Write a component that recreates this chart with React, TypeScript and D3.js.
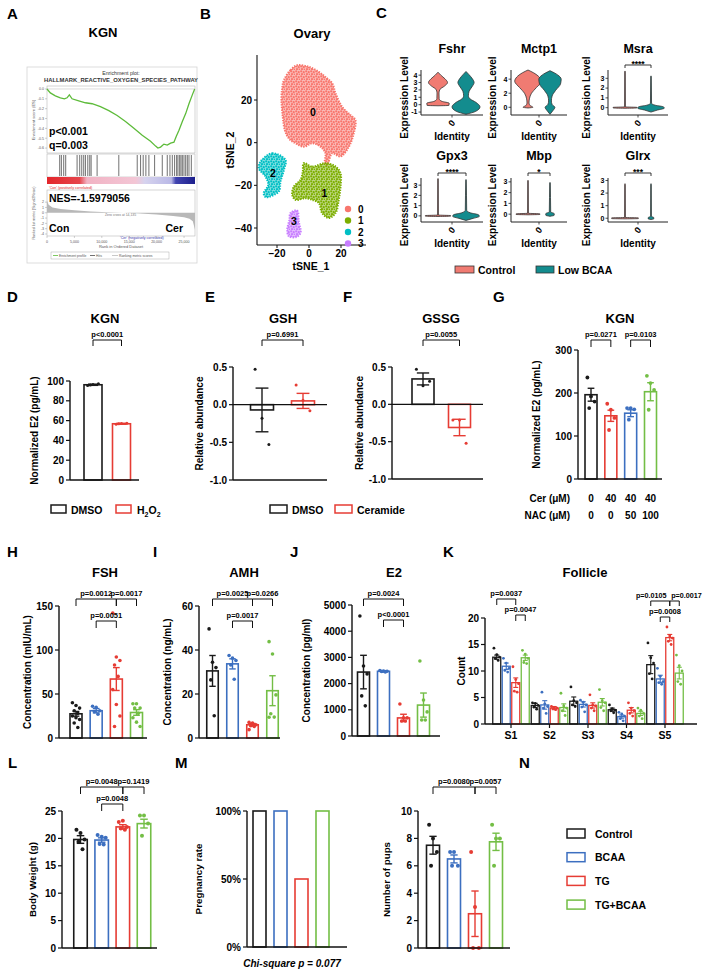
import React from "react";
import * as d3 from "d3";

const FONT = "'Liberation Sans', Arial, Helvetica, sans-serif";

// ================= DATA =================
// Panel A – GSEA
const gseaRank = [0, 610, 1520, 2440, 3170, 3660, 4080, 4570, 5790, 7010, 8230, 9750, 11280, 12800, 14320, 15850, 17370, 18890, 19810, 20230, 20720, 21330, 21940, 22550, 23160, 23590, 24080, 24690, 25300, 25900, 26510, 26940];
const gseaES = [0, -0.04, -0.07, -0.09, -0.1, -0.09, -0.06, -0.1, -0.12, -0.14, -0.15, -0.18, -0.22, -0.27, -0.33, -0.4, -0.47, -0.53, -0.58, -0.6, -0.59, -0.56, -0.57, -0.55, -0.54, -0.48, -0.42, -0.33, -0.25, -0.15, -0.06, 0];
const gseaHits = [2320, 2620, 3050, 3410, 5490, 5970, 6340, 6700, 7010, 7440, 7800, 8050, 9140, 13100, 16460, 17070, 17550, 18040, 18590, 19630, 21030, 21940, 22430, 22860, 23280, 23650, 23890, 24200, 24440, 24690, 24990, 25300, 25600, 25900, 26330];
const gseaMetricRank = [0, 300, 1000, 2500, 5000, 8000, 11000, 14000, 17000, 20000, 23000, 25000, 26000, 26600, 27000];
const gseaMetricValue = [2.3, 1.5, 1.0, 0.7, 0.45, 0.25, 0.1, 0, -0.15, -0.35, -0.6, -0.85, -1.15, -1.6, -3.2];
const gseaRankTicks = [0, 5000, 10000, 15000, 20000, 25000];
const gseaESTicks = [0, -0.1, -0.2, -0.3, -0.4, -0.5, -0.6];
const gseaMetricTicks = [2, 1, 0, -1, -2, -3, -4];

// Panel B – tSNE clusters (outlines in tSNE units)
const clusterIds = ["0", "1", "2", "3"];
const clusterColors = ["#F8766D", "#7CAE00", "#00BFC4", "#C77CFF"];
const cluster0Outline = [[-15.7, 29.3], [-11.6, 34], [-7.4, 36.3], [0, 35.5], [6.1, 33.2], [10.3, 30.8], [14.5, 27.8], [16.6, 23.1], [20.7, 16.8], [26, 12.9], [29, 10.6], [28, 4.4], [24.9, -1.9], [19.7, -6.5], [14.5, -5], [11.4, -10.4], [9.9, -9.6], [10.3, -5], [7.2, -1.9], [2, -0.3], [-3.3, -1.9], [-8.4, -0.3], [-12.6, 2], [-15.1, 5.9], [-16.4, 12.1], [-17.2, 20], [-16.8, 25.4]];
const cluster1Outline = [[-3.3, -9.6], [2, -11.2], [10.3, -9.6], [16.6, -11.2], [19.7, -14.3], [19.7, -20.6], [18.6, -26.8], [16.6, -33], [12.4, -35.3], [8.2, -33], [6.1, -28.3], [2, -26.8], [-2.2, -26], [-8.4, -26.8], [-10.5, -24.4], [-9.5, -20.6], [-5.3, -17.4], [-3.9, -13.6]];
const cluster2Outline = [[-30.3, -8.9], [-23, -5], [-14.7, -8.1], [-15.7, -12.8], [-17.8, -18.2], [-18.9, -22.9], [-27.2, -25.5], [-28.3, -23.6], [-25.5, -19.8], [-27.2, -15.9], [-31.4, -12]];
const cluster3Outline = [[-11.6, -33], [-7.4, -31.8], [-6.4, -36.9], [-5.3, -42.3], [-8, -44.2], [-12.6, -43.9], [-13.6, -40.8], [-12.2, -36.1]];
const clusterCentroids = [[2.4, 14.5], [9.7, -23.4], [-22.6, -14], [-9.5, -36.9]];
const tsneXTicks = [-20, 0, 20];
const tsneYTicks = [20, 0, -20, -40];

// Panel C – violins
const vGenes = ["Fshr", "Mctp1", "Msra", "Gpx3", "Mbp", "Glrx"];
const vSig = ["", "", "****", "****", "*", "***"];
const vTicks = [[-1, 0, 1, 2, 3, 4], [0, 2, 4], [0, 1, 2, 3], [0, 1, 2, 3], [0, 1, 2, 3], [0, 1, 2, 3]];
const vDomain = [[-1.4, 4.7], [-1.1, 5.3], [-0.75, 3.85], [-0.6, 3.7], [-0.73, 3.36], [-0.3, 3.2]];
const vGroups = ["Control", "Low BCAA"];
const vColors = ["#F07B72", "#138C8E"];
// [expression, relative density]
const vControl = [
  [[-0.15, 0], [-0.1, 0.78], [0.2, 0.8], [0.45, 0.28], [0.8, 0.08], [1.6, 0.07], [2.1, 0.15], [2.5, 0.45], [3.0, 0.68], [3.5, 0.5], [4.0, 0.2], [4.4, 0]],
  [[-0.1, 0], [0, 0.35], [0.25, 0.15], [0.6, 0.07], [1.2, 0.1], [2, 0.25], [2.8, 0.6], [3.7, 0.95], [4.3, 0.8], [4.9, 0.4], [5.3, 0]],
  [[-0.06, 0], [-0.03, 0.85], [0.03, 0.85], [0.08, 0.03], [3.7, 0.02], [3.75, 0]],
  [[-0.06, 0], [-0.03, 0.9], [0.03, 0.9], [0.08, 0.03], [3.6, 0.02], [3.65, 0]],
  [[-0.06, 0], [-0.03, 0.85], [0.03, 0.85], [0.08, 0.03], [3.1, 0.02], [3.15, 0]],
  [[-0.05, 0], [-0.03, 0.95], [0.03, 0.95], [0.06, 0.03], [2.7, 0.02], [2.75, 0]],
];
const vLow = [
  [[-1.3, 0], [-0.9, 0.7], [-0.3, 1.0], [0.3, 0.72], [0.8, 0.28], [1.2, 0.17], [1.8, 0.22], [2.4, 0.42], [3.0, 0.58], [3.6, 0.42], [4.1, 0.2], [4.5, 0]],
  [[-1.0, 0], [-0.5, 0.2], [0, 0.35], [0.4, 0.15], [0.9, 0.1], [1.6, 0.15], [2.4, 0.4], [3.3, 0.75], [4.0, 0.8], [4.6, 0.55], [5.2, 0]],
  [[-0.45, 0], [-0.25, 0.45], [-0.05, 0.95], [0.08, 0.9], [0.25, 0.3], [0.45, 0.04], [3.2, 0.02], [3.25, 0]],
  [[-0.45, 0], [-0.25, 0.5], [-0.05, 0.95], [0.1, 0.9], [0.3, 0.3], [0.55, 0.05], [3.5, 0.02], [3.55, 0]],
  [[-0.2, 0], [-0.1, 0.3], [0.05, 0.3], [0.2, 0.05], [2.9, 0.02], [2.95, 0]],
  [[-0.1, 0], [-0.05, 0.2], [0.05, 0.2], [0.15, 0.03], [2.7, 0.02], [2.75, 0]],
];

// Group colours
const twoColors = ["#1a1a1a", "#E63C34"];
const fourColors = ["#1a1a1a", "#3C6FC0", "#E63C34", "#73BE45"];
const gColors = ["#1a1a1a", "#E63C34", "#3C6FC0", "#73BE45"];
const groupNames = ["Control", "BCAA", "TG", "TG+BCAA"];

// Panel D
const dMeans = [96.2, 56.8];
const dSems = [0.6, 0.5];
const dPoints = [[95.5, 96.5, 97.2, 96], [56.2, 57, 57.4, 56.8]];
const dTicks = [0, 20, 40, 60, 80, 100];
// Panel E
const eMeans = [-0.07, 0.05];
const eSems = [0.29, 0.1];
const ePoints = [[0.47, -0.18, -0.53], [0.26, 0.06, -0.08]];
// Panel F
const fMeans = [0.34, -0.31];
const fSems = [0.08, 0.11];
const fPoints = [[0.47, 0.25, 0.31], [-0.21, -0.21, -0.52]];
const efTicks = [0.5, 0, -0.5, -1];
// Panel G
const gMeans = [196, 147, 153, 203];
const gSems = [15, 13, 8, 21];
const gPoints = [[236, 192, 180, 165], [175, 161, 142, 114], [165, 165, 162, 138], [240, 223, 207, 161]];
const gTicks = [0, 100, 200, 300];
const gCer = ["0", "40", "40", "40"];
const gNac = ["0", "0", "50", "100"];
// Panel H
const hMeans = [27.5, 31, 67, 29];
const hSems = [2.7, 2.5, 13, 3.2];
const hPoints = [[40, 37, 34, 31, 28, 25, 23, 21, 17, 12], [36, 35, 31, 30, 27], [142, 92, 88, 83, 70, 55, 38, 25, 13], [39, 39, 34, 34, 28, 23, 18, 13]];
const hTicks = [0, 50, 100, 150];
// Panel I
const iMeans = [30.5, 33.7, 6, 21.5];
const iSems = [7, 2.3, 0.6, 6.8];
const iPoints = [[49.6, 34.4, 32, 26.4, 10.1], [37.5, 36.3, 35.2, 33.2, 26.7], [7.1, 6.8, 6, 5.6, 5.2, 3.8], [43.8, 38.2, 19.6, 11, 9.5, 9.4]];
const iTicks = [0, 20, 40, 60];
// Panel J
const jMeans = [2440, 2470, 690, 1180];
const jSems = [640, 25, 140, 460];
const jPoints = [[4580, 2670, 2370, 1530, 1150], [2500, 2480, 2470, 2460, 2440], [1220, 690, 690, 570, 570], [2860, 1370, 920, 610, 610]];
const jTicks = [0, 1000, 2000, 3000, 4000, 5000];
// Panel K
const kStages = ["S1", "S2", "S3", "S4", "S5"];
const kMeans = [[12.6, 10.9, 7.8, 12.5], [3.5, 3.6, 3.0, 3.1], [4.3, 3.7, 3.5, 4.1], [2.7, 1.4, 2.6, 2.0], [11.2, 8.5, 16.3, 9.6]];
const kSems = [[0.4, 0.6, 0.9, 0.5], [0.4, 0.8, 0.3, 0.7], [0.8, 0.5, 0.5, 0.7], [0.3, 0.3, 0.5, 0.4], [1.7, 0.7, 0.6, 1.1]];
const kPoints = [
  [[14.3, 13.1, 12.6, 12.4, 12.0], [12.4, 11.5, 10.5, 10.1, 9.8], [10.8, 8.4, 7.6, 6.2, 6.0], [13.9, 13.2, 12.4, 11.6, 11.4]],
  [[4.0, 3.9, 3.5, 3.2, 2.8], [6.0, 3.8, 3.3, 3.0, 2.0], [3.3, 3.1, 3.0, 2.9, 2.7], [5.8, 3.4, 3.0, 2.5, 1.6]],
  [[7.0, 4.4, 4.0, 3.6, 3.3], [4.5, 4.1, 3.6, 3.2, 2.3], [5.5, 3.6, 3.4, 3.0, 2.5], [6.5, 4.4, 4.0, 3.1, 2.5]],
  [[3.6, 2.9, 2.6, 2.5, 2.1], [2.2, 1.9, 1.5, 1.0, 0.6], [4.0, 3.0, 2.5, 2.0, 1.5], [3.0, 2.6, 2.0, 1.5, 1.0]],
  [[15.3, 12.5, 11.5, 9.5, 8.5], [10.5, 9.0, 8.0, 7.8, 7.5], [18.3, 16.6, 16.2, 15.6, 15.0], [13.0, 11.0, 10.0, 8.0, 7.5]],
];
const kTicks = [0, 5, 10, 15, 20];
// Panel L
const lMeans = [19.8, 19.7, 22.1, 22.7];
const lSems = [0.7, 0.4, 0.4, 0.8];
const lPoints = [[21.6, 21, 19.8, 19.4, 18], [20.6, 20.3, 20.1, 19, 18.9], [23, 23.2, 22.1, 21.8, 21.6], [24.2, 24.2, 22.7, 20.5]];
const lTicks = [0, 5, 10, 15, 20, 25];
// Panel M
const mRates = [100, 100, 50, 100];
const mTicks = [0, 50, 100];
// Panel N
const nMeans = [7.5, 6.5, 2.5, 7.75];
const nSems = [0.65, 0.29, 1.66, 0.63];
const nPoints = [[9, 8, 7, 6], [7, 7, 6, 6], [7, 3, 0, 0], [9, 8, 8, 6]];
const nTicks = [0, 2, 4, 6, 8, 10];

// ================= HELPERS =================
function Lbl({ x, y, children }: any) {
  return <text x={x} y={y} fontSize={15} fontWeight="bold" fontFamily={FONT}>{children}</text>;
}
function Title({ x, y, children, size = 13 }: any) {
  return <text x={x} y={y} fontSize={size} fontWeight="bold" textAnchor="middle" fontFamily={FONT}>{children}</text>;
}
function Bracket({ x1, x2, y, drop = 6, label, fs = 7.5, dx = 0 }: any) {
  return (
    <g>
      <path d={`M${x1},${y + drop}V${y}H${x2}V${y + drop}`} fill="none" stroke="#111" strokeWidth={1} />
      <text x={(x1 + x2) / 2 + dx} y={y - 3} textAnchor="middle" fontSize={fs} fontWeight="bold" fontFamily={FONT}>{label}</text>
    </g>
  );
}
const jit = (i: number) => (((i * 7) % 5) - 2);

function BarPanel(p: any) {
  const y = d3.scaleLinear().domain(p.domain).range(p.range);
  const n = p.means.length;
  const x = d3.scalePoint<number>().domain(d3.range(n)).range([p.c0, p.c1]);
  const base = y(Math.max(p.domain[0], 0));
  const bw = p.barW;
  const pr = p.pr ?? 1.9;
  const fs = p.fs ?? 10;
  const midY = (p.range[0] + p.range[1]) / 2;
  return (
    <g fontFamily={FONT}>
      {p.means.map((m: number, i: number) => {
        const cx = x(i)!;
        const yt = Math.min(y(m), base), yb = Math.max(y(m), base);
        return (
          <g key={i}>
            <rect x={cx - bw / 2} y={yt} width={bw} height={Math.max(yb - yt, 0.5)} fill="none" stroke={p.colors[i]} strokeWidth={1.6} />
            {p.sems && (
              <g stroke={p.colors[i]} strokeWidth={1.4}>
                <line x1={cx} x2={cx} y1={y(m - p.sems[i])} y2={y(m + p.sems[i])} />
                <line x1={cx - bw * 0.28} x2={cx + bw * 0.28} y1={y(m + p.sems[i])} y2={y(m + p.sems[i])} />
                <line x1={cx - bw * 0.28} x2={cx + bw * 0.28} y1={y(m - p.sems[i])} y2={y(m - p.sems[i])} />
              </g>
            )}
            {p.points && p.points[i].map((v: number, j: number) => (
              <circle key={j} cx={cx + jit(j) * bw * 0.15} cy={y(v)} r={pr} fill={p.colors[i]} />
            ))}
          </g>
        );
      })}
      <line x1={p.axisX} x2={p.axisX} y1={y(p.domain[0])} y2={y(p.domain[1])} stroke="#111" strokeWidth={1.4} />
      <line x1={p.axisX} x2={p.xEnd} y1={y(p.domain[0])} y2={y(p.domain[0])} stroke="#111" strokeWidth={1.4} />
      {p.domain[0] < 0 && <line x1={p.axisX} x2={p.xEnd} y1={y(0)} y2={y(0)} stroke="#111" strokeWidth={1.4} />}
      {p.ticks.map((t: number) => (
        <g key={t}>
          <line x1={p.axisX - 4} x2={p.axisX} y1={y(t)} y2={y(t)} stroke="#111" strokeWidth={1.2} />
          <text x={p.axisX - 6} y={y(t) + fs * 0.36} textAnchor="end" fontSize={fs} fontWeight="bold">{p.fmt ? p.fmt(t) : String(t)}</text>
        </g>
      ))}
      <text transform={`translate(${p.ylabelX},${midY}) rotate(-90)`} textAnchor="middle" fontSize={p.lfs ?? 10} fontWeight="bold">{p.ylabel}</text>
      {(p.brackets || []).map((b: any, k: number) => (
        <Bracket key={k} x1={x(b.a)} x2={x(b.b)} y={b.y} drop={b.drop ?? 6} label={b.label} dx={b.dx ?? 0} />
      ))}
    </g>
  );
}

// ================= PANELS =================
function PanelA() {
  const x = d3.scaleLinear().domain([0, 27000]).range([47, 195]);
  const yES = d3.scaleLinear().domain([-0.65, 0.03]).range([153, 86]);
  const yM = d3.scaleLinear().domain([-4, 2.4]).range([234, 200]);
  const esLine = d3.line<number>().x((_, i) => x(gseaRank[i])).y((d) => yES(d));
  const mArea = d3.area<number>().x((_, i) => x(gseaMetricRank[i])).y0(yM(0)).y1((d) => yM(d));
  const tiny = 4;
  return (
    <g fontFamily={FONT}>
      <Lbl x={7} y={19}>A</Lbl>
      <Title x={103} y={37}>KGN</Title>
      <rect x={27} y={67} width={170} height={196} fill="#fff" stroke="#d4d4d4" strokeWidth={0.8} />
      <text x={121} y={75} fontSize={5.2} textAnchor="middle" fill="#333">Enrichment plot:</text>
      <text x={121} y={82} fontSize={5.5} textAnchor="middle" fill="#333" fontWeight="bold" textLength={154} lengthAdjust="spacingAndGlyphs">HALLMARK_REACTIVE_OXYGEN_SPECIES_PATHWAY</text>
      <rect x={47} y={86} width={148} height={67} fill="#fff" stroke="#aaa" strokeWidth={0.5} />
      <line x1={47} x2={195} y1={yES(0)} y2={yES(0)} stroke="#bbb" strokeWidth={0.5} />
      {gseaESTicks.map((t) => (
        <g key={t}>
          <line x1={45} x2={47} y1={yES(t)} y2={yES(t)} stroke="#888" strokeWidth={0.4} />
          <text x={44} y={yES(t) + 1.3} fontSize={3.6} textAnchor="end" fill="#555">{t.toFixed(1)}</text>
        </g>
      ))}
      <text transform={`translate(35,120) rotate(-90)`} fontSize={tiny} textAnchor="middle" fill="#555">Enrichment score (ES)</text>
      <path d={esLine(gseaES) || ""} fill="none" stroke="#5DBB3A" strokeWidth={1.3} />
      <text x={49} y={135} fontSize={10.5} fontWeight="bold">p&lt;0.001</text>
      <text x={49} y={149} fontSize={10.5} fontWeight="bold">q=0.003</text>
      <rect x={47} y={154} width={148} height={23} fill="#fff" stroke="#aaa" strokeWidth={0.5} />
      {gseaHits.map((h, i) => (
        <line key={i} x1={x(h)} x2={x(h)} y1={155} y2={176} stroke="#111" strokeWidth={0.6} />
      ))}
      <defs>
        <linearGradient id="gseaBar" x1="0" x2="1" y1="0" y2="0">
          <stop offset="0" stopColor="#E3262B" />
          <stop offset="0.22" stopColor="#E6454C" />
          <stop offset="0.27" stopColor="#F1B3C4" />
          <stop offset="0.6" stopColor="#F3C6D5" />
          <stop offset="0.66" stopColor="#D6D3EE" />
          <stop offset="0.84" stopColor="#B9B8E6" />
          <stop offset="0.87" stopColor="#4144B0" />
          <stop offset="1" stopColor="#1C1E8C" />
        </linearGradient>
      </defs>
      <rect x={47} y={177} width={148} height={7} fill="url(#gseaBar)" />
      <text x={49} y={188.5} fontSize={3.6} fill="#d22">'Con' (positively correlated)</text>
      <rect x={47} y={190} width={148} height={46} fill="#fff" stroke="#aaa" strokeWidth={0.5} />
      <path d={mArea(gseaMetricValue) || ""} fill="#b8b8b8" />
      {gseaMetricTicks.map((t) => (
        <g key={t}>
          <line x1={45} x2={47} y1={yM(t)} y2={yM(t)} stroke="#888" strokeWidth={0.4} />
          <text x={44} y={yM(t) + 1.3} fontSize={3.6} textAnchor="end" fill="#555">{t}</text>
        </g>
      ))}
      <text transform={`translate(35,213) rotate(-90)`} fontSize={3.6} textAnchor="middle" fill="#555">Ranked list metric (Signal2Noise)</text>
      <text x={49} y={202} fontSize={10.5} fontWeight="bold">NES=-1.5979056</text>
      <text x={105} y={216} fontSize={3.4} fill="#777">Zero cross at 14,135</text>
      <text x={49} y={232} fontSize={10.5} fontWeight="bold">Con</text>
      <text x={183} y={232} fontSize={10.5} fontWeight="bold" textAnchor="end">Cer</text>
      <text x={120} y={239} fontSize={3.6} fill="#33a">'Cer' (negatively correlated)</text>
      {gseaRankTicks.map((t) => (
        <g key={t}>
          <line x1={x(t)} x2={x(t)} y1={236} y2={238} stroke="#888" strokeWidth={0.4} />
          <text x={x(t)} y={242.5} fontSize={3.6} textAnchor="middle" fill="#555">{d3.format(",")(t)}</text>
        </g>
      ))}
      <text x={121} y={248} fontSize={4} textAnchor="middle" fill="#555">Rank in Ordered Dataset</text>
      <rect x={51} y={252} width={118} height={7} fill="#fff" stroke="#999" strokeWidth={0.4} />
      <line x1={53} x2={58} y1={255.5} y2={255.5} stroke="#5DBB3A" strokeWidth={0.8} />
      <text x={59} y={257} fontSize={3.4} fill="#555">Enrichment profile</text>
      <line x1={90} x2={95} y1={255.5} y2={255.5} stroke="#111" strokeWidth={0.6} />
      <text x={96} y={257} fontSize={3.4} fill="#555">Hits</text>
      <line x1={112} x2={118} y1={255.5} y2={255.5} stroke="#bbb" strokeWidth={0.8} />
      <text x={119} y={257} fontSize={3.4} fill="#555">Ranking metric scores</text>
    </g>
  );
}

function PanelB() {
  const x = d3.scaleLinear().domain([-20, 20]).range([277, 341]);
  const y = d3.scaleLinear().domain([20, -40]).range([100, 228]);
  const line = d3.line<number[]>().curve(d3.curveCatmullRomClosed.alpha(0.5)).x((d) => x(d[0])).y((d) => y(d[1]));
  const outlines = [cluster0Outline, cluster1Outline, cluster2Outline, cluster3Outline];
  const axX = 257, axY = 245;
  return (
    <g fontFamily={FONT}>
      <defs>
        {clusterColors.map((c, i) => (
          <pattern id={`spk${i}`} key={i} width={5} height={5} patternUnits="userSpaceOnUse">
            <rect width={5} height={5} fill={c} fillOpacity={0.5} />
            <circle cx={1.2} cy={1.3} r={1.1} fill={c} />
            <circle cx={3.7} cy={2.2} r={1.1} fill={c} />
            <circle cx={2.0} cy={4.0} r={1.1} fill={c} />
            <circle cx={4.6} cy={4.5} r={0.9} fill={c} />
          </pattern>
        ))}
      </defs>
      <Lbl x={200} y={19}>B</Lbl>
      <Title x={312} y={38}>Ovary</Title>
      {outlines.map((o, i) => (
        <path key={i} d={line(o) || ""} fill={`url(#spk${i})`} stroke={clusterColors[i]} strokeWidth={2} strokeDasharray="1.4 1.2" />
      ))}
      {clusterCentroids.map((c, i) => (
        <text key={i} x={x(c[0])} y={y(c[1]) + 4} fontSize={10.5} fontWeight="bold" textAnchor="middle">{clusterIds[i]}</text>
      ))}
      <line x1={axX} x2={axX} y1={55} y2={axY} stroke="#111" strokeWidth={1.1} />
      <line x1={axX} x2={366} y1={axY} y2={axY} stroke="#111" strokeWidth={1.1} />
      {tsneYTicks.map((t) => (
        <g key={t}>
          <line x1={axX - 3} x2={axX} y1={y(t)} y2={y(t)} stroke="#111" />
          <text x={axX - 5} y={y(t) + 3.6} fontSize={10} fontWeight="bold" textAnchor="end">{t < 0 ? "\u2212" + Math.abs(t) : t}</text>
        </g>
      ))}
      {tsneXTicks.map((t) => (
        <g key={t}>
          <line x1={x(t)} x2={x(t)} y1={axY} y2={axY + 3} stroke="#111" />
          <text x={x(t)} y={axY + 11.5} fontSize={10} fontWeight="bold" textAnchor="middle">{t < 0 ? "\u2212" + Math.abs(t) : t}</text>
        </g>
      ))}
      <text x={311} y={270} fontSize={10.5} fontWeight="bold" textAnchor="middle">tSNE_1</text>
      <text transform="translate(234,150) rotate(-90)" fontSize={10.5} fontWeight="bold" textAnchor="middle">tSNE_2</text>
      {clusterIds.map((c, i) => (
        <g key={c}>
          <circle cx={348} cy={209 + i * 11.5} r={3.2} fill={clusterColors[i]} />
          <text x={358} y={212.5 + i * 11.5} fontSize={10} fontWeight="bold">{c}</text>
        </g>
      ))}
    </g>
  );
}

function PanelC() {
  const colAxis = [421, 511, 608];
  const colEnd = [483, 567, 668];
  const colLabelX = [408, 496, 590];
  const rowTop = [70, 178];
  const rowBottom = [115, 222];
  const rowTitleY = [53, 160];
  const maxHalf = 14;
  return (
    <g fontFamily={FONT}>
      <Lbl x={376} y={18}>C</Lbl>
      {vGenes.map((gene, k) => {
        const col = k % 3, row = Math.floor(k / 3);
        const ax = colAxis[col], ex = colEnd[col];
        const y = d3.scaleLinear().domain(vDomain[k]).range([rowBottom[row], rowTop[row]]);
        const cx = d3.scalePoint<string>().domain(vGroups).range([ax + 17, ex - 17]);
        const mid = (ax + ex) / 2;
        const profiles = [vControl[k], vLow[k]];
        const top = rowTop[row];
        return (
          <g key={gene}>
            <Title x={mid} y={rowTitleY[row]} size={12.5}>{gene}</Title>
            {profiles.map((prof, g) => {
              const c = cx(vGroups[g])!;
              const area = d3.area<number[]>().curve(d3.curveMonotoneY)
                .y((d) => y(d[0])).x0((d) => c - d[1] * maxHalf).x1((d) => c + d[1] * maxHalf);
              return <path key={g} d={area(prof.slice().reverse()) || ""} fill={vColors[g]} stroke="#333" strokeWidth={0.8} />;
            })}
            <line x1={ax} x2={ax} y1={top} y2={rowBottom[row]} stroke="#222" strokeWidth={1} />
            <line x1={ax} x2={ex} y1={rowBottom[row]} y2={rowBottom[row]} stroke="#222" strokeWidth={1} />
            {vTicks[k].map((t) => (
              <g key={t}>
                <line x1={ax - 2.5} x2={ax} y1={y(t)} y2={y(t)} stroke="#222" strokeWidth={0.8} />
                <text x={ax - 3.5} y={y(t) + 2.4} fontSize={7} fontWeight="bold" textAnchor="end">{t}</text>
              </g>
            ))}
            <line x1={mid} x2={mid} y1={rowBottom[row]} y2={rowBottom[row] + 2.5} stroke="#222" strokeWidth={0.8} />
            <text transform={`translate(${mid + 2},${rowBottom[row] + 10}) rotate(-50)`} fontSize={9} fontWeight="bold" textAnchor="middle">0</text>
            <text x={mid} y={rowBottom[row] + 25} fontSize={10} fontWeight="bold" textAnchor="middle">Identity</text>
            <text transform={`translate(${colLabelX[col]},${(top + rowBottom[row]) / 2 + 5}) rotate(-90)`} fontSize={10} fontWeight="bold" textAnchor="middle">Expression Level</text>
            {vSig[k] && (
              <g>
                <path d={`M${cx(vGroups[0])},${top - 2}V${top - 5}H${cx(vGroups[1])}V${top - 2}`} fill="none" stroke="#222" strokeWidth={0.9} />
                <text x={mid} y={top - 3.5} fontSize={8.5} fontWeight="bold" textAnchor="middle">{vSig[k]}</text>
              </g>
            )}
          </g>
        );
      })}
      <rect x={455} y={266} width={19} height={7} fill={vColors[0]} stroke="#333" strokeWidth={0.8} />
      <text x={478} y={274} fontSize={10.5} fontWeight="bold">{vGroups[0]}</text>
      <rect x={536} y={266} width={18} height={7} fill={vColors[1]} stroke="#333" strokeWidth={0.8} />
      <text x={558} y={274} fontSize={10.5} fontWeight="bold">{vGroups[1]}</text>
    </g>
  );
}

function LegendSwatch({ x, y, color, w = 15, h = 8 }: any) {
  return <rect x={x} y={y} width={w} height={h} fill="none" stroke={color} strokeWidth={1.5} />;
}

function RowD() {
  const f1 = (t: number) => (t === 0 ? "0.0" : t.toFixed(1));
  const xsG = d3.scalePoint<number>().domain(d3.range(4)).range([591, 650.5]);
  return (
    <g fontFamily={FONT}>
      <Lbl x={7} y={302}>D</Lbl>
      <Title x={105} y={323}>KGN</Title>
      <BarPanel means={dMeans} sems={dSems} points={dPoints} colors={twoColors}
        axisX={70} xEnd={139} domain={[0, 100]} range={[480, 381]} ticks={dTicks}
        c0={93} c1={121.5} barW={18} ylabel="Normalized E2 (pg/mL)" ylabelX={38} pr={1.5}
        brackets={[{ a: 0, b: 1, label: "p<0.0001", y: 340, drop: 6 }]} />
      <LegendSwatch x={51} y={505} color={twoColors[0]} />
      <text x={71} y={513.5} fontSize={10.5} fontWeight="bold">DMSO</text>
      <LegendSwatch x={116} y={505} color={twoColors[1]} />
      <text x={137} y={513.5} fontSize={10.5} fontWeight="bold">H<tspan fontSize={7} dy={3}>2</tspan><tspan dy={-3}>O</tspan><tspan fontSize={7} dy={3}>2</tspan></text>

      <Lbl x={205} y={302}>E</Lbl>
      <Title x={283} y={323}>GSH</Title>
      <BarPanel means={eMeans} sems={eSems} points={ePoints} colors={twoColors}
        axisX={233} xEnd={327} domain={[-1, 0.5]} range={[480, 367]} ticks={efTicks} fmt={f1}
        c0={262} c1={303} barW={23} ylabel="Relative abundance" ylabelX={203} pr={1.5}
        brackets={[{ a: 0, b: 1, label: "p=0.6991", y: 340, drop: 6 }]} />

      <Lbl x={343} y={302}>F</Lbl>
      <Title x={441} y={323}>GSSG</Title>
      <BarPanel means={fMeans} sems={fSems} points={fPoints} colors={twoColors}
        axisX={392} xEnd={483} domain={[-1, 0.5]} range={[479, 367]} ticks={efTicks} fmt={f1}
        c0={423} c1={459.5} barW={22} ylabel="Relative abundance" ylabelX={363} pr={1.5}
        brackets={[{ a: 0, b: 1, label: "p=0.0055", y: 340, drop: 6 }]} />
      <LegendSwatch x={270} y={505} color={twoColors[0]} w={17} />
      <text x={292} y={513.5} fontSize={10.5} fontWeight="bold">DMSO</text>
      <LegendSwatch x={335} y={505} color={twoColors[1]} w={17} />
      <text x={357} y={513.5} fontSize={10.5} fontWeight="bold">Ceramide</text>

      <Lbl x={493} y={302}>G</Lbl>
      <Title x={620} y={323}>KGN</Title>
      <BarPanel means={gMeans} sems={gSems} points={gPoints} colors={gColors}
        axisX={578} xEnd={662} domain={[0, 300]} range={[479, 350]} ticks={gTicks}
        c0={591} c1={650.5} barW={12} ylabel="Normalized E2 (pg/mL)" ylabelX={540} pr={1.9}
        brackets={[{ a: 0, b: 1, label: "p=0.0271", y: 340, drop: 7 }, { a: 2, b: 3, label: "p=0.0103", y: 340, drop: 7 }]} />
      <text x={570} y={502} fontSize={10} fontWeight="bold" textAnchor="end">Cer (μM)</text>
      <text x={570} y={519} fontSize={10} fontWeight="bold" textAnchor="end">NAC (μM)</text>
      {gCer.map((c, i) => (
        <g key={i}>
          <text x={xsG(i)} y={502} fontSize={10} fontWeight="bold" textAnchor="middle">{c}</text>
          <text x={xsG(i)} y={519} fontSize={10} fontWeight="bold" textAnchor="middle">{gNac[i]}</text>
        </g>
      ))}
    </g>
  );
}

function RowH() {
  return (
    <g fontFamily={FONT}>
      <Lbl x={7} y={557}>H</Lbl>
      <Title x={105} y={577}>FSH</Title>
      <BarPanel means={hMeans} sems={hSems} points={hPoints} colors={fourColors}
        axisX={59} xEnd={147} domain={[0, 150]} range={[738, 606]} ticks={hTicks}
        c0={76} c1={136.5} barW={12} ylabel="Concentration (mIU/mL)" ylabelX={31} pr={1.8}
        brackets={[{ a: 0, b: 2, label: "p=0.0012", y: 599, drop: 7 }, { a: 2, b: 3, label: "p=0.0017", y: 599, drop: 7 }, { a: 1, b: 2, label: "p=0.0051", y: 621, drop: 7 }]} />

      <Lbl x={153} y={557}>I</Lbl>
      <Title x={244} y={577}>AMH</Title>
      <BarPanel means={iMeans} sems={iSems} points={iPoints} colors={fourColors}
        axisX={199} xEnd={280} domain={[0, 60]} range={[738, 606]} ticks={iTicks}
        c0={212.5} c1={272.5} barW={11.5} ylabel="Concentration (ng/mL)" ylabelX={171} pr={1.8}
        brackets={[{ a: 0, b: 2, label: "p=0.0025", y: 599, drop: 7 }, { a: 2, b: 3, label: "p=0.0266", y: 599, drop: 7 }, { a: 1, b: 2, label: "p=0.0017", y: 621, drop: 7 }]} />

      <Lbl x={290} y={557}>J</Lbl>
      <Title x={394} y={577}>E2</Title>
      <BarPanel means={jMeans} sems={jSems} points={jPoints} colors={fourColors}
        axisX={352} xEnd={440} domain={[0, 5000]} range={[736, 605]} ticks={jTicks}
        c0={363.5} c1={423.5} barW={12} ylabel="Concentration (pg/ml)" ylabelX={310} pr={1.8}
        brackets={[{ a: 0, b: 2, label: "p=0.0024", y: 599, drop: 7 }, { a: 1, b: 2, label: "p<0.0001", y: 620, drop: 7 }]} />

      <Lbl x={443} y={557}>K</Lbl>
      <Title x={585} y={577}>Follicle</Title>
      <PanelK />
    </g>
  );
}

function PanelK() {
  const axisX = 485, xEnd = 697;
  const y = d3.scaleLinear().domain([0, 20]).range([724, 618]);
  const xs = d3.scalePoint<string>().domain(kStages).range([511, 665]);
  const off = [-14.25, -4.75, 4.75, 14.25];
  const bw = 8;
  const bx = (s: number, g: number) => xs(kStages[s])! + off[g];
  const fs = 10;
  return (
    <g fontFamily={FONT}>
      {kStages.map((st, s) => (
        <g key={st}>
          {fourColors.map((col, g) => {
            const cx = bx(s, g);
            const m = kMeans[s][g], se = kSems[s][g];
            return (
              <g key={g}>
                <rect x={cx - bw / 2} y={y(m)} width={bw} height={y(0) - y(m)} fill="none" stroke={col} strokeWidth={1.3} />
                <g stroke={col} strokeWidth={1.1}>
                  <line x1={cx} x2={cx} y1={y(m - se)} y2={y(m + se)} />
                  <line x1={cx - 2.5} x2={cx + 2.5} y1={y(m + se)} y2={y(m + se)} />
                  <line x1={cx - 2.5} x2={cx + 2.5} y1={y(m - se)} y2={y(m - se)} />
                </g>
                {kPoints[s][g].map((v, j) => (
                  <circle key={j} cx={cx + jit(j) * 1.4} cy={y(v)} r={1.4} fill={col} />
                ))}
              </g>
            );
          })}
          <line x1={xs(st)} x2={xs(st)} y1={y(0)} y2={y(0) + 4} stroke="#111" strokeWidth={1.2} />
          <text x={xs(st)} y={y(0) + 15} fontSize={10.5} fontWeight="bold" textAnchor="middle">{st}</text>
        </g>
      ))}
      <line x1={axisX} x2={axisX} y1={y(0)} y2={y(20)} stroke="#111" strokeWidth={1.4} />
      <line x1={axisX} x2={xEnd} y1={y(0)} y2={y(0)} stroke="#111" strokeWidth={1.4} />
      {kTicks.map((t) => (
        <g key={t}>
          <line x1={axisX - 4} x2={axisX} y1={y(t)} y2={y(t)} stroke="#111" strokeWidth={1.2} />
          <text x={axisX - 6} y={y(t) + fs * 0.36} textAnchor="end" fontSize={fs} fontWeight="bold">{t}</text>
        </g>
      ))}
      <text transform={`translate(465,671) rotate(-90)`} textAnchor="middle" fontSize={10} fontWeight="bold">Count</text>
      <Bracket x1={bx(0, 0)} x2={bx(0, 2)} y={599} drop={6} label="p=0.0037" />
      <Bracket x1={bx(0, 2)} x2={bx(0, 3)} y={615} drop={6} label="p=0.0047" />
      <Bracket x1={bx(4, 0)} x2={bx(4, 2)} y={601} drop={5} label="p=0.0105" dx={-9} fs={7.2} />
      <Bracket x1={bx(4, 2)} x2={bx(4, 3)} y={601} drop={5} label="p=0.0017" dx={12} fs={7.2} />
      <Bracket x1={bx(4, 1)} x2={bx(4, 2)} y={617} drop={5} label="p=0.0008" />
    </g>
  );
}

function RowL() {
  const pct = (t: number) => `${t}%`;
  return (
    <g fontFamily={FONT}>
      <Lbl x={8} y={768}>L</Lbl>
      <BarPanel means={lMeans} sems={lSems} points={lPoints} colors={fourColors}
        axisX={62} xEnd={157} domain={[0, 25]} range={[948, 811]} ticks={lTicks}
        c0={80.5} c1={144} barW={13.5} ylabel="Body Weight (g)" ylabelX={36} pr={2} lfs={9.8}
        brackets={[{ a: 0, b: 2, label: "p=0.0048", y: 787, drop: 7 }, { a: 2, b: 3, label: "p=0.1419", y: 787, drop: 7 }, { a: 1, b: 2, label: "p=0.0048", y: 804, drop: 7 }]} />

      <Lbl x={175} y={768}>M</Lbl>
      <BarPanel means={mRates} colors={fourColors}
        axisX={247} xEnd={347} domain={[0, 100]} range={[947, 811]} ticks={mTicks} fmt={pct}
        c0={259.5} c1={322.5} barW={13} ylabel="Pregnancy rate" ylabelX={202} lfs={9.8} />
      <text x={292} y={967} fontSize={10} fontWeight="bold" fontStyle="italic" textAnchor="middle">Chi-square p = 0.077</text>

      <Lbl x={519} y={768}>N</Lbl>
      <BarPanel means={nMeans} sems={nSems} points={nPoints} colors={fourColors}
        axisX={418} xEnd={510} domain={[0, 10]} range={[948, 811]} ticks={nTicks}
        c0={433} c1={496} barW={13} ylabel="Number of pups" ylabelX={390} pr={2} lfs={9.8}
        brackets={[{ a: 0, b: 2, label: "p=0.0080", y: 787, drop: 7 }, { a: 2, b: 3, label: "p=0.0057", y: 787, drop: 7 }]} />
      {groupNames.map((g, i) => (
        <g key={g}>
          <LegendSwatch x={567} y={829 + i * 23.7} color={fourColors[i]} w={18} h={9} />
          <text x={595} y={837.5 + i * 23.7} fontSize={10.5} fontWeight="bold">{g}</text>
        </g>
      ))}
    </g>
  );
}

export default function App() {
  return (
    <svg width={709} height={975} viewBox="0 0 709 975" style={{ position: "absolute", left: 0, top: 0, background: "#fff" }} fontFamily={FONT}>
      <rect width={709} height={975} fill="#fff" />
      <PanelA />
      <PanelB />
      <PanelC />
      <RowD />
      <RowH />
      <RowL />
    </svg>
  );
}
